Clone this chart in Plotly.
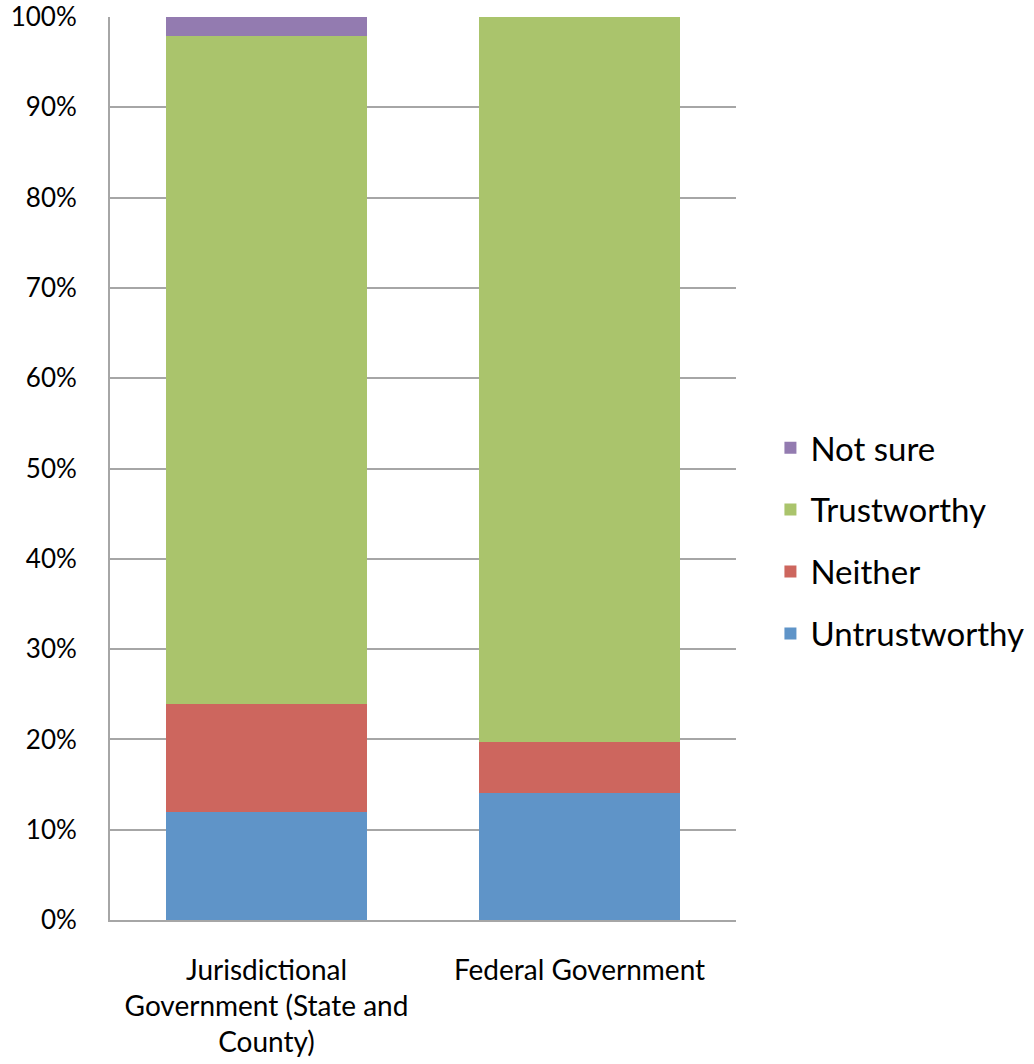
import plotly.graph_objects as go

categories = ["Jurisdictional<br>Government (State and<br>County)", "Federal Government"]
untrustworthy = [12.0, 14.1]
neither = [11.9, 5.6]
trustworthy = [74.0, 80.3]
not_sure = [2.1, 0.0]
tick_vals = [0, 10, 20, 30, 40, 50, 60, 70, 80, 90, 100]
tick_text = [f"{v}%" for v in tick_vals]

series = [
    ("Untrustworthy", untrustworthy, "#5F94C8", 4),
    ("Neither", neither, "#CD665E", 3),
    ("Trustworthy", trustworthy, "#AAC46C", 2),
    ("Not sure", not_sure, "#937BB0", 1),
]

fig = go.Figure()
for name, vals, color, rank in series:
    fig.add_trace(go.Bar(
        x=categories, y=vals, name=name, legendgroup=name, legendrank=rank,
        marker=dict(color=color, line=dict(width=0)),
    ))

font_family = "Lato, Open Sans, sans-serif"
fig.update_layout(
    width=1034, height=1064,
    barmode="stack", bargap=0.355,
    plot_bgcolor="white", paper_bgcolor="white",
    margin=dict(l=110, r=298, t=17, b=144, autoexpand=False),
    font=dict(family=font_family, color="black", size=26),
    legend=dict(
        x=1.055, xanchor="left", y=0.42, yanchor="middle",
        traceorder="grouped", tracegroupgap=16,
        font=dict(size=33, family=font_family), itemwidth=30,
        bgcolor="rgba(0,0,0,0)",
    ),
    showlegend=True,
)
fig.update_yaxes(
    range=[0, 100], tickvals=tick_vals, ticktext=tick_text,
    showgrid=True, gridcolor="#A6A6A6", gridwidth=1.5,
    showline=True, linecolor="#A6A6A6", linewidth=2,
    ticks="", ticklabelstandoff=26, zeroline=False,
    tickfont=dict(size=26), automargin=False,
)
fig.update_xaxes(
    showline=True, linecolor="#A6A6A6", linewidth=2,
    showgrid=False, ticks="", tickfont=dict(size=28),
    ticklabelstandoff=24, automargin=False,
)

fig.write_html("out.html")
